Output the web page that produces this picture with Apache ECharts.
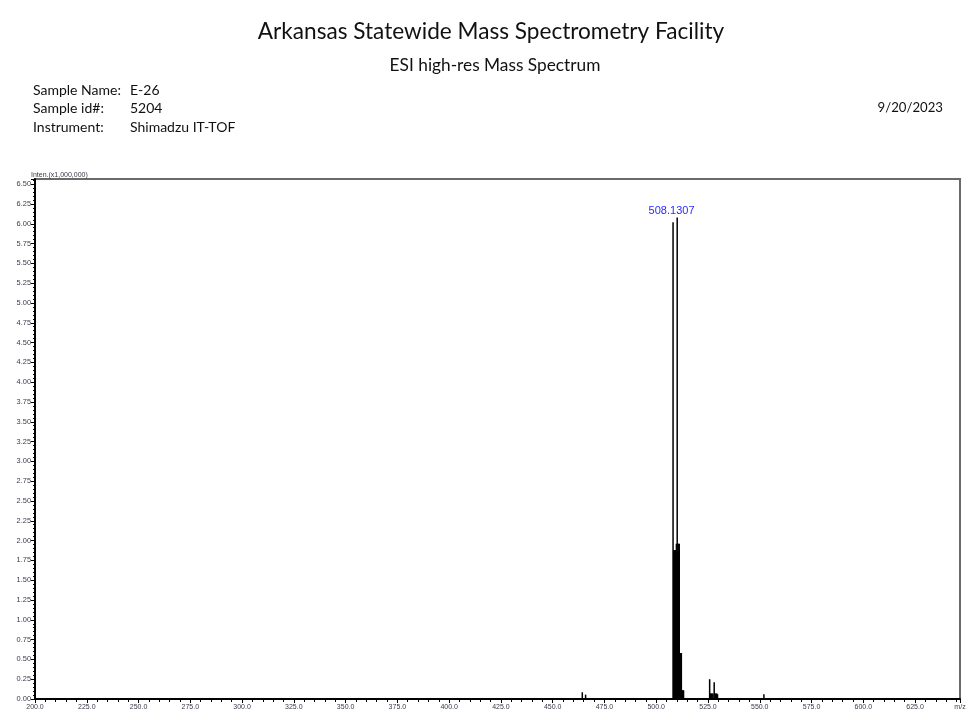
<!DOCTYPE html>
<html>
<head>
<meta charset="utf-8">
<script src="https://cdn.jsdelivr.net/npm/echarts@6/dist/echarts.min.js"></script>
<style>
  html, body { margin: 0; padding: 0; background: #fff; }
  #chart { width: 970px; height: 725px; }
</style>
</head>
<body>
<div id="chart"></div>
<script>
// Peak list: m/z positions and intensities (x1,000,000)
const peakMz = [
  464.3, 465.9,
  508.1307, 508.45, 508.75, 509.13, 509.45, 509.75, 510.13, 510.45, 510.75, 511.13,
  511.45, 511.75, 512.13, 512.5, 512.85, 513.2,
  525.8, 526.2, 526.6, 527.0, 527.4, 528.0, 528.4, 528.8, 529.2, 529.6,
  552.0
];
const peakIntensity = [
  0.085, 0.055,
  6.02, 1.88, 1.88, 1.88, 1.88, 1.96, 6.08, 1.96, 1.96, 1.96,
  0.58, 0.58, 0.58, 0.11, 0.11, 0.11,
  0.25, 0.07, 0.07, 0.07, 0.07, 0.21, 0.07, 0.07, 0.07, 0.06,
  0.06
];
const labeledPeak = 508.1307;

// Axis settings
const mzMin = 200, mzMax = 646.7, mzStep = 25;
const intMin = 0, intMax = 6.565, intStep = 0.25;

// Header text
const titleText = 'Arkansas Statewide Mass Spectrometry Facility';
const subtitleText = 'ESI high-res Mass Spectrum';
const infoKeys = ['Sample Name:', 'Sample id#:', 'Instrument:'];
const infoValues = ['E-26', '5204', 'Shimadzu IT-TOF'];
const dateText = '9/20/2023';

const chart = echarts.init(document.getElementById('chart'), null, { renderer: 'canvas' });

const headerFont = 'Lato, "Open Sans", sans-serif';
const graphics = [
  { type: 'text', x: 491, y: 32, style: { text: titleText, font: '22.6px ' + headerFont, fill: '#111', align: 'center', verticalAlign: 'middle' } },
  { type: 'text', x: 495, y: 65, style: { text: subtitleText, font: '17.3px ' + headerFont, fill: '#111', align: 'center', verticalAlign: 'middle' } },
  { type: 'text', x: 943, y: 108, style: { text: dateText, font: '13.2px ' + headerFont, fill: '#111', align: 'right', verticalAlign: 'middle' } }
];
infoKeys.forEach((k, i) => {
  const y = 90 + i * 18.5;
  graphics.push({ type: 'text', x: 33, y: y, style: { text: k, font: '14px ' + headerFont, fill: '#111', align: 'left', verticalAlign: 'middle' } });
  graphics.push({ type: 'text', x: 130, y: y, style: { text: infoValues[i], font: '14px ' + headerFont, fill: '#111', align: 'left', verticalAlign: 'middle' } });
});

const seriesData = peakMz.map((mz, i) => {
  const item = { value: [mz, peakIntensity[i]] };
  if (mz === labeledPeak) {
    item.label = {
      show: true, position: 'top', distance: 6, offset: [-1.5, 0],
      formatter: () => labeledPeak.toFixed(4),
      color: '#2a2aff', fontSize: 11, fontFamily: 'Arial, "Liberation Sans", sans-serif'
    };
  }
  return item;
});

const smallFont = 'Arial, "Liberation Sans", sans-serif';

chart.setOption({
  animation: false,
  backgroundColor: '#fff',
  graphic: graphics,
  grid: {
    left: 35, right: 10, top: 179, bottom: 26,
    show: true, borderColor: '#6a6a6a', borderWidth: 2, backgroundColor: 'transparent'
  },
  xAxis: {
    type: 'value', min: mzMin, max: mzMax, interval: mzStep,
    splitLine: { show: false },
    axisLine: { show: true, lineStyle: { color: '#000', width: 2 } },
    axisTick: { show: true, inside: false, length: 4, lineStyle: { color: '#000', width: 1 } },
    minorTick: { show: true, splitNumber: 5, length: 3, lineStyle: { color: '#000', width: 1 } },
    minorSplitLine: { show: false },
    axisLabel: {
      fontSize: 7, color: '#3a3a4a', fontFamily: smallFont, margin: 5,
      showMinLabel: true, showMaxLabel: true,
      formatter: v => (v >= mzMax - 1e-6 ? 'm/z' : v.toFixed(1))
    }
  },
  yAxis: {
    type: 'value', min: intMin, max: intMax, interval: intStep,
    splitLine: { show: false },
    axisLine: { show: true, lineStyle: { color: '#000', width: 2 } },
    axisTick: { show: true, inside: false, length: 4, lineStyle: { color: '#000', width: 1 } },
    minorTick: { show: true, splitNumber: 5, length: 2, lineStyle: { color: '#000', width: 1 } },
    axisLabel: {
      fontSize: 7.4, color: '#3a3a4a', fontFamily: smallFont, margin: 4,
      showMaxLabel: false,
      formatter: v => v.toFixed(2)
    },
    name: 'Inten.(x1,000,000)',
    nameLocation: 'end',
    nameGap: 0,
    nameTextStyle: { fontSize: 7, color: '#3a3a4a', fontFamily: smallFont, align: 'left', padding: [0, 0, 0, -4] }
  },
  series: [{
    type: 'bar',
    data: seriesData,
    barWidth: 1.5,
    itemStyle: { color: '#000' },
    emphasis: { disabled: true }
  }]
});
</script>
</body>
</html>
